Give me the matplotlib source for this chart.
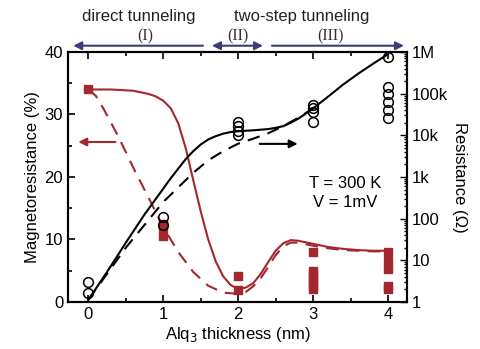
import numpy as np
import matplotlib
matplotlib.use('Agg')
import matplotlib.pyplot as plt
import matplotlib.ticker as ticker
import matplotlib.transforms as mtrans

plt.rcParams['font.family'] = ['Liberation Sans', 'DejaVu Sans']
plt.rcParams['font.size'] = 12

# measured magnetoresistance (%)
mr_x = [0, 1, 1, 1, 2, 2, 3, 3, 3, 3, 3, 3, 3, 4, 4, 4, 4, 4]
mr_y = [34, 12.5, 12.0, 10.5, 4.2, 1.9, 8.0, 5.0, 4.4, 3.8, 3.2, 2.6, 2.0, 8.0, 6.5, 5.2, 2.6, 2.0]

# measured resistance (Ohm)
res_x = [0, 0, 1, 1, 2, 2, 2, 2, 3, 3, 3, 3, 4, 4, 4, 4, 4, 4]
res_y = [3.0, 1.6, 110, 70, 21e3, 17e3, 13e3, 10e3, 53e3, 45e3, 37e3, 21e3,
         740e3, 147e3, 100e3, 64e3, 41e3, 26e3]

# MR model curves
mr_fit_x = [0, 0.3, 0.6, 0.8, 0.9, 1.0, 1.1, 1.2, 1.3, 1.4, 1.5, 1.6, 1.7, 1.8, 1.9, 2.0,
            2.1, 2.2, 2.3, 2.4, 2.5, 2.6, 2.7, 2.8, 3.0, 3.2, 3.4, 3.6, 3.8, 4.0]
mr_fit_solid = [34, 34, 33.8, 33.3, 32.9, 32.2, 31, 28.6, 24.6, 19.5, 14.5, 10, 6.5, 4.1, 2.7, 2.1,
                2.3, 3.0, 4.5, 6.4, 8.2, 9.4, 9.9, 9.8, 9.3, 8.8, 8.5, 8.3, 8.2, 8.2]
mr_fit_dash_x = [0, 0.1, 0.2, 0.4, 0.6, 0.8, 1.0, 1.2, 1.4, 1.6, 1.8, 2.0, 2.1, 2.2, 2.3,
                 2.4, 2.5, 2.6, 2.7, 2.8, 3.0, 3.2, 3.4, 3.6, 3.8, 4.0]
mr_fit_dash = [34, 33, 31, 26.5, 21.5, 16.8, 12, 8, 4.8, 2.6, 1.5, 1.3, 1.6, 2.5, 3.8,
               5.6, 7.5, 8.9, 9.5, 9.5, 9.0, 8.6, 8.3, 8.2, 8.1, 8.1]

# resistance model curves (log10 Ohm)
r_fit_x = [0, 0.25, 0.5, 0.75, 1.0, 1.1, 1.2, 1.3, 1.4, 1.5, 1.6, 1.7, 1.8, 1.9, 2.0,
           2.2, 2.4, 2.5, 2.6, 2.7, 2.8, 2.9, 3.0, 3.2, 3.4, 3.6, 3.8, 4.0]
r_fit_solid = [0.05, 0.72, 1.42, 2.1, 2.72, 2.97, 3.2, 3.43, 3.62, 3.78, 3.9, 3.98, 4.04, 4.08, 4.1,
               4.12, 4.15, 4.18, 4.22, 4.3, 4.4, 4.52, 4.65, 4.93, 5.22, 5.48, 5.72, 5.95]
r_fit_dash_x = [0, 0.5, 1.0, 1.2, 1.4, 1.6, 1.8, 2.0, 2.2, 2.4, 2.6, 2.8, 3.0]
r_fit_dash = [0.05, 1.3, 2.4, 2.75, 3.1, 3.4, 3.62, 3.8, 3.92, 4.05, 4.22, 4.42, 4.65]

red = '#a3272d'
navy = '#3a3d78'

fig = plt.figure(figsize=(4.81, 3.49), dpi=100)
ax = fig.add_axes([0.1414, 0.1347, 0.7046, 0.7163])
ax2 = ax.twinx()

ax.plot(mr_fit_x, mr_fit_solid, color=red, lw=1.5)
ax.plot(mr_fit_dash_x, mr_fit_dash, color=red, lw=1.5, dashes=(6, 4))
ax.plot(mr_x, mr_y, 's', color=red, ms=6, clip_on=False, zorder=5)

ax2.plot(r_fit_x, 10 ** np.array(r_fit_solid), color='black', lw=1.5)
ax2.plot(r_fit_dash_x, 10 ** np.array(r_fit_dash), color='black', lw=1.5, dashes=(6, 4))
ax2.plot(res_x, res_y, 'o', mfc='none', mec='black', ms=7, mew=1.1, clip_on=False)

ax.set_xlim(-0.27, 4.25)
ax.set_ylim(0, 40)
ax2.set_yscale('log')
ax2.set_ylim(1, 1e6)

ax.xaxis.set_major_locator(ticker.MultipleLocator(1))
ax.xaxis.set_minor_locator(ticker.MultipleLocator(0.5))
ax.yaxis.set_major_locator(ticker.MultipleLocator(10))
ax.yaxis.set_minor_locator(ticker.MultipleLocator(5))
ax.tick_params(which='both', direction='in', top=True, width=1.2)
ax.tick_params(which='major', length=5)
ax.tick_params(which='minor', length=3)
ax2.yaxis.set_major_locator(ticker.FixedLocator([1, 10, 100, 1e3, 1e4, 1e5, 1e6]))
ax2.yaxis.set_major_formatter(ticker.FixedFormatter(['1', '10', '100', '1k', '10k', '100k', '1M']))
ax2.yaxis.set_minor_locator(ticker.LogLocator(base=10, subs=np.arange(2, 10), numticks=20))
ax2.yaxis.set_minor_formatter(ticker.NullFormatter())
ax2.tick_params(which='both', direction='in', width=1.0)
ax2.tick_params(which='major', length=5)
ax2.tick_params(which='minor', length=2.5)
for a in (ax, ax2):
    for s in a.spines.values():
        s.set_linewidth(1.5)

ax.set_xlabel('Alq$_3$ thickness (nm)', labelpad=2)
ax.set_ylabel('Magnetoresistance (%)', labelpad=3)
ax2.set_ylabel('Resistance (\u03a9)', rotation=270, labelpad=14)

# pointer arrows
ax.annotate('', xy=(-0.17, 25.6), xytext=(0.4, 25.6),
            arrowprops=dict(arrowstyle='-|>', color=red, lw=1.5, mutation_scale=12))
ax.annotate('', xy=(2.83, 25.3), xytext=(2.25, 25.3),
            arrowprops=dict(arrowstyle='-|>', color='black', lw=1.5, mutation_scale=12))

ax.text(3.42, 19.0, 'T = 300 K', ha='center', va='center')
ax.text(3.42, 15.9, 'V = 1mV', ha='center', va='center')

# regime arrows on top
tr = mtrans.blended_transform_factory(ax.transData, fig.transFigure)
ya = 1 - 45.7 / 349
for x0, x1, style in [(1.53, -0.2, '-|>'), (1.65, 2.33, '<|-|>'), (2.45, 4.21, '-|>')]:
    ax.annotate('', xy=(x1, ya), xytext=(x0, ya), xycoords=tr, textcoords=tr,
                arrowprops=dict(arrowstyle=style, color=navy, lw=1.5, mutation_scale=12,
                                shrinkA=0, shrinkB=0), annotation_clip=False)
for xl, lab in [(0.76, '(I)'), (2.0, '(II)'), (3.23, '(III)')]:
    ax.text(xl, 1 - 36 / 349, lab, transform=tr, ha='center', va='center',
            family=['Liberation Serif', 'DejaVu Serif'], fontsize=11.5, color='#333333')
ax.text(0.67, 1 - 16 / 349, 'direct tunneling', transform=tr, ha='center', va='center', color='#222222')
ax.text(2.85, 1 - 16 / 349, 'two-step tunneling', transform=tr, ha='center', va='center', color='#222222')

fig.savefig('out.png', dpi=100)
